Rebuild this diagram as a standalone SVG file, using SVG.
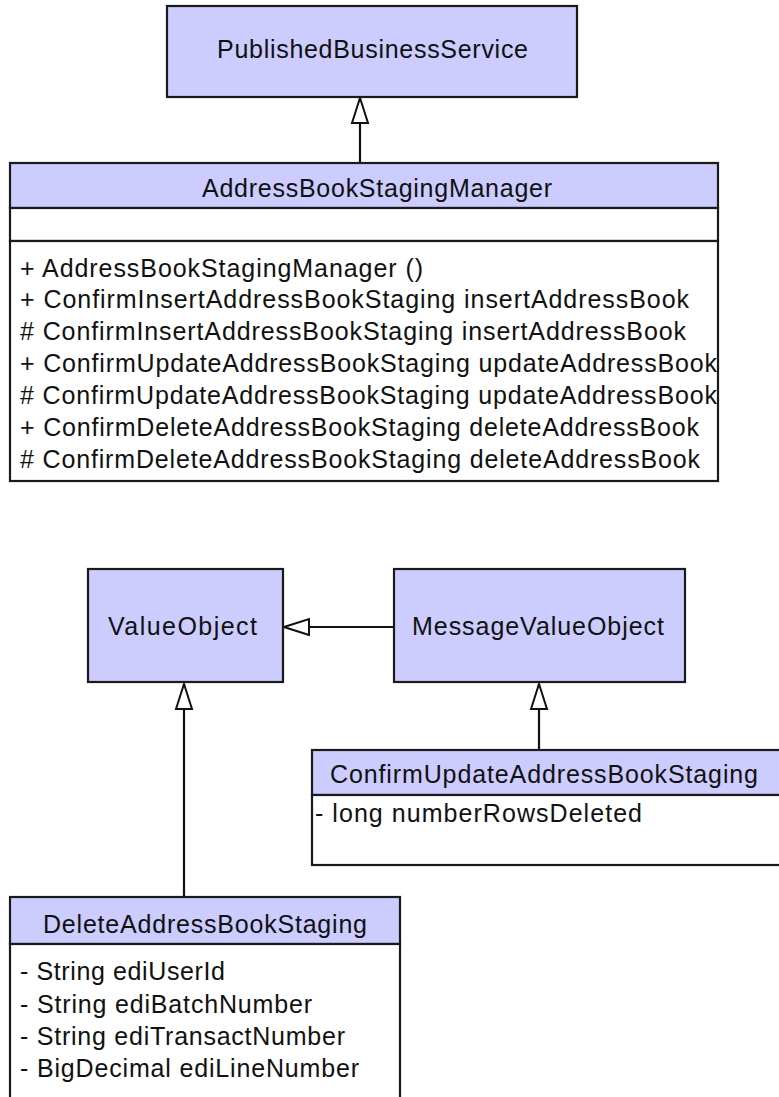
<svg xmlns="http://www.w3.org/2000/svg" width="779" height="1097" viewBox="0 0 779 1097">
<style>
.hdr{fill:#ccccff;stroke:#1a1a1a;stroke-width:2.2}
.body{fill:#ffffff;stroke:#1a1a1a;stroke-width:2.2}
.t{font-family:"Liberation Sans",Arial,sans-serif;font-size:25px;fill:#111}
.conn{stroke:#111;stroke-width:2.2;fill:none;marker-end:url(#gen)}
</style>
<defs>
<marker id="gen" viewBox="0 0 28 20" markerWidth="28" markerHeight="20" refX="26" refY="10" orient="auto" markerUnits="userSpaceOnUse">
<path d="M1,2 L26,10 L1,18 Z" fill="#fff" stroke="#111" stroke-width="2"/>
</marker>
</defs>
<rect width="779" height="1097" fill="#fff"/>
<g id="connectors">
<path class="conn" d="M360,163 L360,98"/>
<path class="conn" d="M394,627 L284,627"/>
<path class="conn" d="M184,897 L184,684"/>
<path class="conn" d="M539,750 L539,684"/>
</g>
<g id="PublishedBusinessService">
<rect class="hdr" x="167" y="6" width="410" height="91"/>
<text class="t" x="217" y="58" textLength="311" lengthAdjust="spacing">PublishedBusinessService</text>
</g>
<g id="AddressBookStagingManager">
<rect class="hdr" x="10" y="163" width="708" height="45"/>
<rect class="body" x="10" y="208" width="708" height="33"/>
<rect class="body" x="10" y="241" width="708" height="240"/>
<text class="t" x="202" y="197" textLength="350" lengthAdjust="spacing">AddressBookStagingManager</text>
<text class="t" x="20" y="277" textLength="403" lengthAdjust="spacing">+ AddressBookStagingManager ()</text>
<text class="t" x="20" y="308" textLength="669" lengthAdjust="spacing">+ ConfirmInsertAddressBookStaging insertAddressBook</text>
<text class="t" x="20" y="340" textLength="666" lengthAdjust="spacing"># ConfirmInsertAddressBookStaging insertAddressBook</text>
<text class="t" x="20" y="372" textLength="697" lengthAdjust="spacing">+ ConfirmUpdateAddressBookStaging updateAddressBook</text>
<text class="t" x="20" y="404" textLength="697" lengthAdjust="spacing"># ConfirmUpdateAddressBookStaging updateAddressBook</text>
<text class="t" x="20" y="436" textLength="679" lengthAdjust="spacing">+ ConfirmDeleteAddressBookStaging deleteAddressBook</text>
<text class="t" x="20" y="468" textLength="680" lengthAdjust="spacing"># ConfirmDeleteAddressBookStaging deleteAddressBook</text>
</g>
<g id="ValueObject">
<rect class="hdr" x="88" y="569" width="195" height="113"/>
<text class="t" x="108" y="635" textLength="149" lengthAdjust="spacing">ValueObject</text>
</g>
<g id="MessageValueObject">
<rect class="hdr" x="394" y="569" width="291" height="113"/>
<text class="t" x="412" y="635" textLength="252" lengthAdjust="spacing">MessageValueObject</text>
</g>
<g id="ConfirmUpdateAddressBookStaging">
<rect class="hdr" x="312" y="750" width="480" height="45"/>
<rect class="body" x="312" y="795" width="480" height="70"/>
<text class="t" x="330" y="783" textLength="428" lengthAdjust="spacing">ConfirmUpdateAddressBookStaging</text>
<text class="t" x="315" y="822" textLength="327" lengthAdjust="spacing">- long numberRowsDeleted</text>
</g>
<g id="DeleteAddressBookStaging">
<rect class="hdr" x="10" y="897" width="390" height="47"/>
<rect class="body" x="10" y="944" width="390" height="165"/>
<text class="t" x="43" y="933" textLength="324" lengthAdjust="spacing">DeleteAddressBookStaging</text>
<text class="t" x="20" y="980" textLength="205" lengthAdjust="spacing">- String ediUserId</text>
<text class="t" x="20" y="1013" textLength="292" lengthAdjust="spacing">- String ediBatchNumber</text>
<text class="t" x="20" y="1045" textLength="325" lengthAdjust="spacing">- String ediTransactNumber</text>
<text class="t" x="20" y="1077" textLength="339" lengthAdjust="spacing">- BigDecimal ediLineNumber</text>
</g>
</svg>
